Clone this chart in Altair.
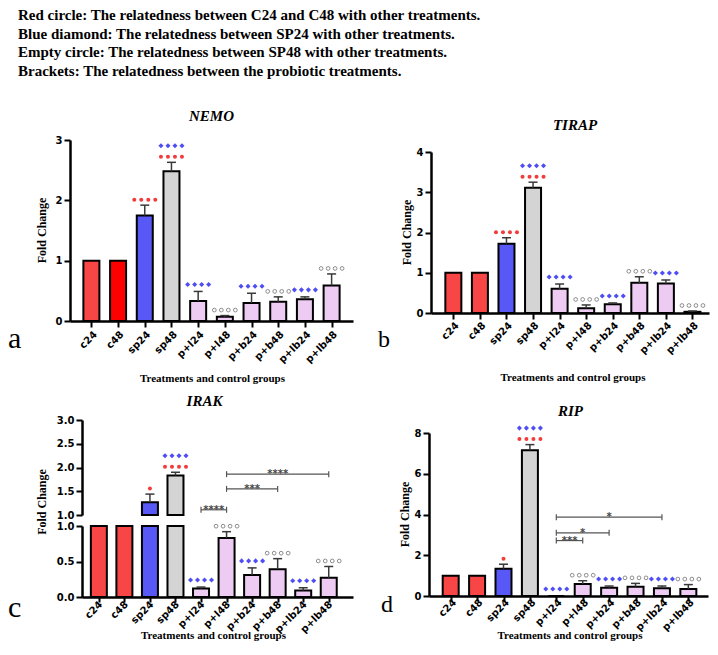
import altair as alt
import pandas as pd

# ---------------- data ----------------
categories = ["c24", "c48", "sp24", "sp48", "p+l24", "p+l48", "p+b24", "p+b48", "p+lb24", "p+lb48"]

legend_lines = [
    "Red circle: The relatedness between C24 and C48 with other treatments.",
    "Blue diamond: The relatedness between SP24 with other treatments.",
    "Empty circle: The relatedness between SP48 with other treatments.",
    "Brackets: The relatedness between the probiotic treatments.",
]

nemo_mean = [1.0, 1.0, 1.75, 2.48, 0.33, 0.07, 0.30, 0.32, 0.36, 0.59]
nemo_sd = [0.0, 0.0, 0.17, 0.15, 0.16, 0.02, 0.16, 0.08, 0.04, 0.19]
nemo_sig = ["", "", "R4", "R4B4", "B4", "E4", "B4", "E4", "B4", "E4"]

tirap_mean = [1.0, 1.0, 1.72, 3.11, 0.60, 0.12, 0.22, 0.75, 0.73, 0.03]
tirap_sd = [0.0, 0.0, 0.15, 0.14, 0.12, 0.08, 0.03, 0.15, 0.09, 0.02]
tirap_sig = ["", "", "R4", "R4B4", "B4", "E4", "B4", "E4", "B4", "E4"]

irak_mean = [1.0, 1.0, 1.27, 1.83, 0.12, 0.83, 0.31, 0.39, 0.09, 0.27]
irak_sd = [0.0, 0.0, 0.17, 0.07, 0.02, 0.09, 0.10, 0.15, 0.04, 0.16]
irak_sig = ["", "", "R1", "R4B4", "B4", "E4", "B4", "E4", "B4", "E4"]
irak_br_from = ["p+l24", "p+l48", "p+l48"]
irak_br_to = ["p+l48", "p+b48", "p+lb48"]
irak_br_level = [1.11, 1.55, 1.86]
irak_br_label = ["****", "***", "****"]

rip_mean = [1.0, 1.0, 1.34, 7.15, 0.0, 0.59, 0.41, 0.46, 0.38, 0.34]
rip_sd = [0.0, 0.0, 0.22, 0.28, 0.0, 0.16, 0.08, 0.16, 0.11, 0.22]
rip_sig = ["", "", "R1", "R4B4", "B4", "E4", "B4", "E4", "B4", "E4"]
rip_br_from = ["p+l24", "p+l24", "p+l24"]
rip_br_to = ["p+l48", "p+b24", "p+lb24"]
rip_br_level = [2.72, 3.10, 3.87]
rip_br_label = ["***", "*", "*"]

# ---------------- styles / layout ----------------
W, H = 702, 634
BAR_RED = "#F84646"
BAR_RED_DEEP = "#FF0000"
BAR_BLUE = "#5858F6"
BAR_GREY = "#D4D4D4"
BAR_PINK = "#EDCBF2"
colors_nemo = [BAR_RED, BAR_RED_DEEP, BAR_BLUE, BAR_GREY] + [BAR_PINK] * 6
colors_other = [BAR_RED, BAR_RED, BAR_BLUE, BAR_GREY] + [BAR_PINK] * 6
ERR = "#3a3a3a"
SERIF = "Liberation Serif"
SANS = "DejaVu Sans"
MARK_STYLE = {
    "R": dict(shape="circle", filled=True, color="#F23C3C", size=16),
    "B": dict(shape="diamond", filled=True, color="#4E4EF4", size=26),
    "E": dict(shape="circle", filled=False, color="#808080", size=14, strokeWidth=0.9),
}

LABEL_EXPR = "[" + ",".join("'%s'" % c for c in categories) + "][datum.value]"


def frame(mean, sd):
    return pd.DataFrame({
        "idx": list(range(len(categories))),
        "cat": categories,
        "mean": mean,
        "sd": sd,
        "top": [m + s for m, s in zip(mean, sd)],
    })


def marker_frame(mean, sd, sig):
    rows = []
    for i, code in enumerate(sig):
        level = 0
        j = 0
        while j < len(code):
            kind, n = code[j], int(code[j + 1])
            j += 2
            rows.append(dict(idx=i, top=mean[i] + sd[i], kind=kind, count=n, level=level))
            level += 1
    return pd.DataFrame(rows)


def bracket_frame(frm, to, level, label):
    fi = [categories.index(c) for c in frm]
    ti = [categories.index(c) for c in to]
    return pd.DataFrame({
        "from": fi, "to": ti, "mid": [(a + b) / 2 for a, b in zip(fi, ti)],
        "level": level, "label": label,
    })


def lin_scale(dom, rng, clamp=False):
    return alt.Scale(domain=list(dom), range=list(rng), nice=False, zero=False, clamp=clamp)


def x_axis(ypix, tick=6, pad=2, off=0):
    return alt.Axis(orient="bottom", offset=ypix - H, values=list(range(10)),
                    labelExpr=LABEL_EXPR, labelAngle=-45, labelAlign="right",
                    labelBaseline="top", labelFont=SANS, labelFontWeight="bold",
                    labelFontSize=10, labelColor="black", labelPadding=pad, labelOffset=off,
                    labelFlush=False, labelOverlap=False, tickSize=tick, tickWidth=2,
                    tickColor="black", domainColor="black", domainWidth=2.5, grid=False,
                    title=None)


def y_axis(xpix, values, fmt):
    return alt.Axis(orient="left", offset=-xpix, values=values, format=fmt, labelFont=SANS,
                    labelFontWeight="bold", labelFontSize=10, labelColor="black",
                    labelPadding=2, labelFlush=False, labelOverlap=False, tickSize=6,
                    tickWidth=2, tickColor="black", domainColor="black", domainWidth=2.5,
                    grid=False, title=None)


def bars(df, xs, ys, xa, ya, colors, base=None):
    enc = dict(
        x=alt.X("idx:Q", scale=xs, axis=xa),
        y=alt.Y("mean:Q", scale=ys, axis=ya, stack=None),
        color=alt.Color("cat:N", scale=alt.Scale(domain=categories, range=colors), legend=None),
    )
    if base is not None:
        enc["y2"] = alt.datum(base)
    return alt.Chart(df).mark_bar(orient="vertical", size=16, stroke="black",
                                  strokeWidth=2).encode(**enc)


def err_layers(df, xs, ys, xa, ya):
    e = df[df["sd"] > 0]
    rule = alt.Chart(e).mark_rule(color=ERR, strokeWidth=1.5).encode(
        x=alt.X("idx:Q", scale=xs, axis=xa), y=alt.Y("mean:Q", scale=ys, axis=ya),
        y2=alt.Y2("top:Q"))
    cap = alt.Chart(e).mark_tick(orient="horizontal", size=9, thickness=1.5, color=ERR,
                                 opacity=1).encode(
        x=alt.X("idx:Q", scale=xs, axis=xa), y=alt.Y("top:Q", scale=ys, axis=ya))
    return [rule, cap]


def marker_layers(mdf, xs, ys, xa, ya):
    layers = []
    if len(mdf) == 0:
        return layers
    for (kind, count, level), g in mdf.groupby(["kind", "count", "level"]):
        if level == 0:
            yoff = -7 if kind == "B" else -5.5
        else:
            yoff = -16.5
        for k in range(count):
            off = (k - (count - 1) / 2) * 7
            layers.append(
                alt.Chart(g).mark_point(xOffset=off, yOffset=yoff, opacity=1, **MARK_STYLE[kind])
                .encode(x=alt.X("idx:Q", scale=xs, axis=xa), y=alt.Y("top:Q", scale=ys, axis=ya))
            )
    return layers


def bracket_layers(bdf, xs, ys, xa, ya):
    ends = pd.DataFrame({"pos": list(bdf["from"]) + list(bdf["to"]),
                         "level": list(bdf["level"]) * 2})
    line = alt.Chart(bdf).mark_rule(color="#555555", strokeWidth=1.2).encode(
        x=alt.X("from:Q", scale=xs, axis=xa), x2=alt.X2("to:Q"),
        y=alt.Y("level:Q", scale=ys, axis=ya))
    ticks = alt.Chart(ends).mark_tick(orient="vertical", size=6, thickness=1.2,
                                      color="#555555", opacity=1).encode(
        x=alt.X("pos:Q", scale=xs, axis=xa), y=alt.Y("level:Q", scale=ys, axis=ya))
    stars = alt.Chart(bdf).mark_text(baseline="alphabetic", dy=3, font=SANS, fontWeight="bold",
                                     fontSize=10, color="#444444").encode(
        x=alt.X("mid:Q", scale=xs, axis=xa), y=alt.Y("level:Q", scale=ys, axis=ya),
        text="label:N")
    return [line, ticks, stars]


def text_layer(text, x, y, **kw):
    return alt.Chart(pd.DataFrame({"t": [text]})).mark_text(**kw).encode(
        x=alt.value(x), y=alt.value(y), text="t:N")


def gene_title(t, x, y):
    return text_layer(t, x, y, font=SERIF, fontStyle="italic", fontWeight="bold",
                      fontSize=15, align="center", baseline="alphabetic", color="black")


def y_title(x, y):
    return text_layer("Fold Change", x, y, font=SERIF, fontWeight="bold", fontSize=12,
                      angle=270, align="center", baseline="middle", color="black")


def x_title(x, y):
    return text_layer("Treatments and control groups", x, y, font=SERIF, fontWeight="bold",
                      fontSize=11, align="center", baseline="alphabetic", color="black")


def letter(t, x, y, size):
    return text_layer(t, x, y, font=SERIF, fontSize=size, align="left",
                      baseline="alphabetic", color="black")


def simple_panel(mean, sd, sig, colors, xdom, xrng, ymax, yrng, yvals, xa_kw, brackets=None):
    df = frame(mean, sd)
    mdf = marker_frame(mean, sd, sig)
    xs, ys = lin_scale(xdom, xrng), lin_scale((0, ymax), yrng)
    xa, ya = x_axis(yrng[0], **xa_kw), y_axis(xrng[0], yvals, "d")
    layers = [bars(df, xs, ys, xa, ya, colors)]
    layers += err_layers(df, xs, ys, xa, ya)
    layers += marker_layers(mdf, xs, ys, xa, ya)
    if brackets is not None:
        layers += bracket_layers(brackets, xs, ys, xa, ya)
    return alt.layer(*layers)


# ---------------- panels ----------------
panel_a = simple_panel(nemo_mean, nemo_sd, nemo_sig, colors_nemo, (-0.614, 9.614), (62, 345),
                       3, (313, 132), [0, 1, 2, 3], dict(tick=6, pad=2, off=0))

panel_b = simple_panel(tirap_mean, tirap_sd, tirap_sig, colors_other, (-0.653, 9.435), (423, 701),
                       4, (305, 144), [0, 1, 2, 3, 4], dict(tick=6, pad=1, off=0))

panel_d = simple_panel(rip_mean, rip_sd, rip_sig, colors_other, (-0.632, 9.555), (421, 700),
                       8, (588, 425), [0, 2, 4, 6, 8], dict(tick=5, pad=-4, off=0),
                       brackets=bracket_frame(rip_br_from, rip_br_to, rip_br_level, rip_br_label))

# IRAK: broken y axis (upper 1.0-3.0, lower 0-1.0)
irak_df = frame(irak_mean, irak_sd)
irak_mdf = marker_frame(irak_mean, irak_sd, irak_sig)
xs_up = lin_scale((-0.464, 9.754), (74, 345))
xs_low = lin_scale((-0.464, 9.754), (74, 345))
ys_up = lin_scale((1, 3), (507, 412))
ys_low = lin_scale((0, 1), (589, 518), clamp=True)
ya_up = y_axis(74, [1, 1.5, 2, 2.5, 3], ".1f")
ya_low = y_axis(74, [0, 0.5, 1], ".1f")
xa_low = x_axis(589, tick=5, pad=-3, off=-2)
up_df = irak_df[irak_df["mean"] > 1]
low_df = irak_df[irak_df["top"] <= 1]

c_up_layers = [bars(up_df, xs_up, ys_up, None, ya_up, colors_other, base=1.0)]
c_up_layers += err_layers(up_df, xs_up, ys_up, None, ya_up)
c_up_layers += marker_layers(irak_mdf[irak_mdf["top"] > 1], xs_up, ys_up, None, ya_up)
c_up_layers += bracket_layers(bracket_frame(irak_br_from, irak_br_to, irak_br_level, irak_br_label),
                              xs_up, ys_up, None, ya_up)
c_up = alt.layer(*c_up_layers)

c_low_layers = [bars(irak_df, xs_low, ys_low, xa_low, ya_low, colors_other)]
c_low_layers += err_layers(low_df, xs_low, ys_low, xa_low, ya_low)
c_low_layers += marker_layers(irak_mdf[irak_mdf["top"] <= 1], xs_low, ys_low, xa_low, ya_low)
c_low = alt.layer(*c_low_layers)

# ---------------- legend text ----------------
leg_df = pd.DataFrame({"row": list(range(len(legend_lines))), "line": legend_lines})
legend = alt.Chart(leg_df).mark_text(align="left", baseline="alphabetic", font=SERIF,
                                     fontWeight="bold", fontSize=15, color="black").encode(
    x=alt.value(10),
    y=alt.Y("row:Q", scale=lin_scale((0, 3), (12, 67.5)), axis=None),
    text="line:N",
)

annotations = [
    gene_title("NEMO", 203.5, 112.5), gene_title("TIRAP", 567, 122),
    gene_title("IRAK", 196.5, 398), gene_title("RIP", 562.5, 408),
    y_title(34, 222.5), y_title(399, 224.5), y_title(33.5, 494), y_title(397, 506.5),
    x_title(204.5, 374), x_title(565, 373), x_title(205.5, 631), x_title(562, 631),
    letter("a", 0, 340, 30), letter("b", 370, 339, 24),
    letter("c", 0, 609, 30), letter("d", 373, 604, 24),
]

chart = alt.layer(legend, panel_a, panel_b, c_up, c_low, panel_d, *annotations).resolve_scale(
    x="independent", y="independent", color="independent"
).resolve_axis(x="independent", y="independent").properties(
    width=W, height=H, padding=0, background="white"
).configure_view(stroke=None)

chart.save("out.html", embed_options={"renderer": "svg", "actions": False})
